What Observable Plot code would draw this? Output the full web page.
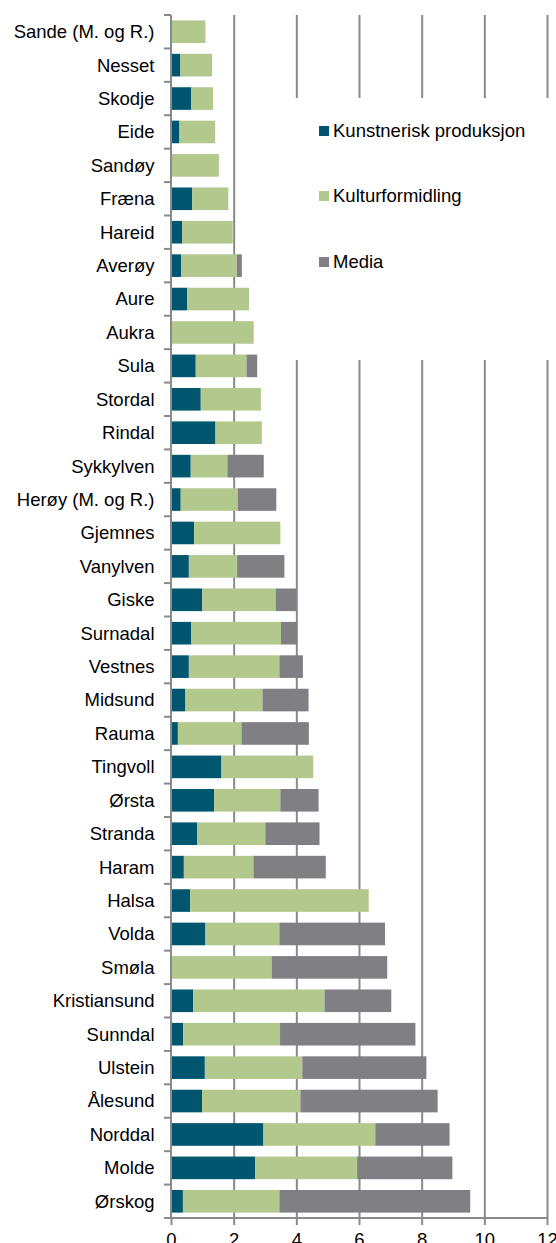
<!DOCTYPE html>
<html>
<head>
<meta charset="utf-8">
<script src="https://cdn.jsdelivr.net/npm/d3@7"></script>
<script src="https://cdn.jsdelivr.net/npm/@observablehq/plot@0.6"></script>
<style>
  html, body { margin: 0; padding: 0; background: white; }
  #wrap { position: relative; width: 556px; height: 1243px; overflow: hidden; font-family: "Liberation Sans", Arial, sans-serif; }
  #legend { position: absolute; left: 290px; top: 98px; width: 266px; height: 262px; background: white; }
  .item { position: absolute; left: 29px; font-size: 18.5px; color: #000; line-height: 20px; white-space: nowrap; }
  .sw { display: inline-block; width: 10px; height: 10px; margin-right: 4px; vertical-align: 1px; }
</style>
</head>
<body>
<div id="wrap"></div>
<script>
const names = ["Sande (M. og R.)","Nesset","Skodje","Eide","Sandøy","Fræna","Hareid","Averøy","Aure","Aukra","Sula","Stordal","Rindal","Sykkylven","Herøy (M. og R.)","Gjemnes","Vanylven","Giske","Surnadal","Vestnes","Midsund","Rauma","Tingvoll","Ørsta","Stranda","Haram","Halsa","Volda","Smøla","Kristiansund","Sunndal","Ulstein","Ålesund","Norddal","Molde","Ørskog"];
const kunstnerisk = [0,0.30,0.65,0.27,0,0.68,0.36,0.32,0.52,0,0.79,0.95,1.42,0.63,0.31,0.74,0.57,1.00,0.65,0.57,0.46,0.22,1.61,1.38,0.84,0.41,0.61,1.10,0,0.71,0.39,1.08,0.99,2.95,2.69,0.38];
const kultur = [1.10,1.01,0.69,1.14,1.53,1.15,1.61,1.78,1.97,2.64,1.62,1.92,1.48,1.17,1.82,2.75,1.54,2.34,2.86,2.89,2.46,2.03,2.93,2.11,2.17,2.22,5.70,2.36,3.21,4.19,3.09,3.11,3.14,3.57,3.25,3.08];
const media = [0,0,0,0,0,0,0,0.16,0,0,0.34,0,0,1.16,1.23,0,1.51,0.66,0.51,0.75,1.47,2.15,0,1.22,1.73,2.31,0,3.37,3.69,2.13,4.32,3.96,4.38,2.37,3.04,6.09];
const seriesNames = ["Kunstnerisk produksjon","Kulturformidling","Media"];
const seriesColors = ["#00556f","#b3c88c","#807f84"];
const xTicks = [0,2,4,6,8,10,12];

const seriesValues = [kunstnerisk, kultur, media];
const rows = [];
names.forEach((n, i) => {
  seriesNames.forEach((s, j) => rows.push({name: n, series: s, value: seriesValues[j][i]}));
});

const gray = "#8a8a8a";

function frameMarks(index, scales, values, dimensions) {
  const {marginTop, height, marginBottom} = dimensions;
  const y0 = marginTop, y1 = height - marginBottom;
  const x0 = scales.x(0);
  const g = d3.create("svg:g").attr("stroke", gray).attr("stroke-width", 2);
  g.append("line").attr("x1", x0).attr("x2", x0).attr("y1", y0).attr("y2", y1);
  g.append("line").attr("x1", x0 - 1).attr("x2", scales.x(12) + 1).attr("y1", y1).attr("y2", y1);
  names.forEach(n => {
    const yy = scales.y(n);
    g.append("line").attr("x1", x0 - 7).attr("x2", x0).attr("y1", yy).attr("y2", yy);
  });
  g.append("line").attr("x1", x0 - 7).attr("x2", x0).attr("y1", y1).attr("y2", y1);
  return g.node();
}

const chart = Plot.plot({
  width: 556,
  height: 1243,
  marginLeft: 171,
  marginRight: 9,
  marginTop: 15,
  marginBottom: 25,
  style: {fontFamily: "Liberation Sans, Arial, sans-serif", fontSize: "18.5px", color: "#000", background: "white"},
  x: {domain: [0, 12], label: null},
  y: {domain: names, padding: 0, round: false, label: null},
  color: {domain: seriesNames, range: seriesColors},
  marks: [
    Plot.gridX(xTicks.slice(1), {stroke: gray, strokeOpacity: 1, strokeWidth: 2}),
    Plot.barX(rows, {x: "value", y: "name", fill: "series", insetTop: 5.4, insetBottom: 5.4}),
    frameMarks,
    Plot.axisX({ticks: xTicks, label: null, tickSize: 7, tickPadding: 7, stroke: gray, strokeWidth: 2, fill: "#000", fontSize: 18.5}),
    Plot.axisY({label: null, tickSize: 0, tickPadding: 17, fill: "#000", fontSize: 18.5})
  ]
});

const wrap = document.getElementById("wrap");
wrap.appendChild(chart);

const legend = document.createElement("div");
legend.id = "legend";
const centers = [131, 196, 262];
seriesNames.forEach((s, j) => {
  const it = document.createElement("div");
  it.className = "item";
  it.style.top = (centers[j] - 98 - 10) + "px";
  const sw = document.createElement("span");
  sw.className = "sw";
  sw.style.background = seriesColors[j];
  it.appendChild(sw);
  it.appendChild(document.createTextNode(s));
  legend.appendChild(it);
});
wrap.appendChild(legend);
</script>
</body>
</html>
